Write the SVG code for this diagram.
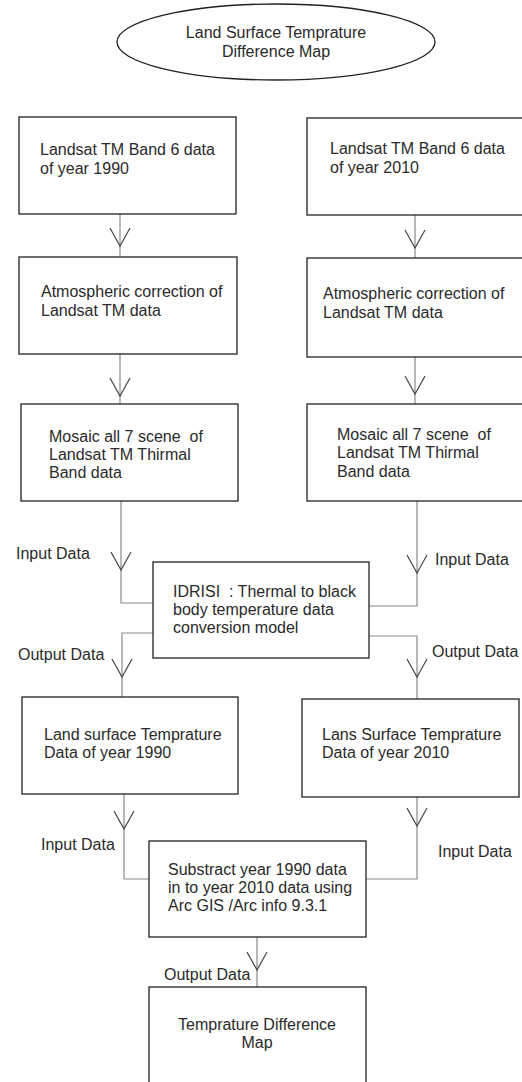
<svg xmlns="http://www.w3.org/2000/svg" width="522" height="1082" viewBox="0 0 522 1082">
<style>
.box{fill:#fff;stroke:#222;stroke-width:1.3}
.con{fill:none;stroke:#8a8a8a;stroke-width:1.2}
.arr{fill:none;stroke:#444;stroke-width:1.2}
text{font-family:"Liberation Sans",Arial,sans-serif;font-size:16px;fill:#2a2a2a}
.c{text-anchor:middle}
</style>
<defs>
<path id="v" d="M-10,-18 L0,0 L10,-18"/>
</defs>
<rect width="522" height="1082" fill="#fff"/>
<g id="title">
<ellipse cx="276" cy="42" rx="159" ry="38" class="box"/>
<text x="276" y="38" class="c">Land Surface Temprature</text>
<text x="276" y="57" class="c">Difference Map</text>
</g>
<g id="connectors">
<path class="con" d="M120,214 V257"/>
<path class="con" d="M415,215 V258"/>
<path class="con" d="M120,354 V404"/>
<path class="con" d="M415,357 V404"/>
<path class="con" d="M121,501 V603 H153"/>
<path class="con" d="M417,501 V606 H369"/>
<path class="con" d="M153,633 H122 V697"/>
<path class="con" d="M369,636 H417 V699"/>
<path class="con" d="M124,794 V879 H149"/>
<path class="con" d="M417,797 V879 H366"/>
<path class="con" d="M257,937 V987"/>
<use href="#v" class="arr" transform="translate(120,246)"/>
<use href="#v" class="arr" transform="translate(415,248)"/>
<use href="#v" class="arr" transform="translate(120,396)"/>
<use href="#v" class="arr" transform="translate(415,394)"/>
<use href="#v" class="arr" transform="translate(121,570)"/>
<use href="#v" class="arr" transform="translate(417,573)"/>
<use href="#v" class="arr" transform="translate(122,677)"/>
<use href="#v" class="arr" transform="translate(417,677)"/>
<use href="#v" class="arr" transform="translate(124,829)"/>
<use href="#v" class="arr" transform="translate(417,826)"/>
<use href="#v" class="arr" transform="translate(257,970)"/>
<text x="16" y="559">Input Data</text>
<text x="435" y="565">Input Data</text>
<text x="18" y="660">Output Data</text>
<text x="432" y="657">Output Data</text>
<text x="41" y="850">Input Data</text>
<text x="438" y="857">Input Data</text>
<text x="164" y="980">Output Data</text>
</g>
<g id="n1990">
<rect class="box" x="19" y="117" width="217" height="97"/>
<text x="40" y="155">Landsat TM Band 6 data</text>
<text x="40" y="174">of year 1990</text>
</g>
<g id="n2010">
<rect class="box" x="307" y="118" width="222" height="97"/>
<text x="330" y="154">Landsat TM Band 6 data</text>
<text x="330" y="173">of year 2010</text>
</g>
<g id="atm1990">
<rect class="box" x="19" y="257" width="218" height="97"/>
<text x="41" y="297">Atmospheric correction of</text>
<text x="41" y="316">Landsat TM data</text>
</g>
<g id="atm2010">
<rect class="box" x="307" y="258" width="222" height="99"/>
<text x="323" y="299">Atmospheric correction of</text>
<text x="323" y="318">Landsat TM data</text>
</g>
<g id="mos1990">
<rect class="box" x="21" y="404" width="217" height="97"/>
<text x="49" y="442" xml:space="preserve">Mosaic all 7 scene  of</text>
<text x="49" y="460">Landsat TM Thirmal</text>
<text x="49" y="478">Band data</text>
</g>
<g id="mos2010">
<rect class="box" x="307" y="404" width="222" height="97"/>
<text x="337" y="440" xml:space="preserve">Mosaic all 7 scene  of</text>
<text x="337" y="458">Landsat TM Thirmal</text>
<text x="337" y="477">Band data</text>
</g>
<g id="idrisi">
<rect class="box" x="153" y="562" width="216" height="96"/>
<text x="173" y="597" xml:space="preserve">IDRISI  : Thermal to black</text>
<text x="173" y="615">body temperature data</text>
<text x="173" y="633">conversion model</text>
</g>
<g id="lst1990">
<rect class="box" x="22" y="697" width="216" height="97"/>
<text x="44" y="740">Land surface Temprature</text>
<text x="44" y="758">Data of year 1990</text>
</g>
<g id="lst2010">
<rect class="box" x="302" y="699" width="217" height="98"/>
<text x="322" y="740">Lans Surface Temprature</text>
<text x="322" y="758">Data of year 2010</text>
</g>
<g id="subtract">
<rect class="box" x="149" y="841" width="217" height="96"/>
<text x="168" y="875">Substract year 1990 data</text>
<text x="168" y="893">in to year 2010 data using</text>
<text x="168" y="911">Arc GIS /Arc info 9.3.1</text>
</g>
<g id="diffmap">
<rect class="box" x="149" y="987" width="217" height="110"/>
<text x="257" y="1030" class="c">Temprature Difference</text>
<text x="257" y="1048" class="c">Map</text>
</g>
</svg>
